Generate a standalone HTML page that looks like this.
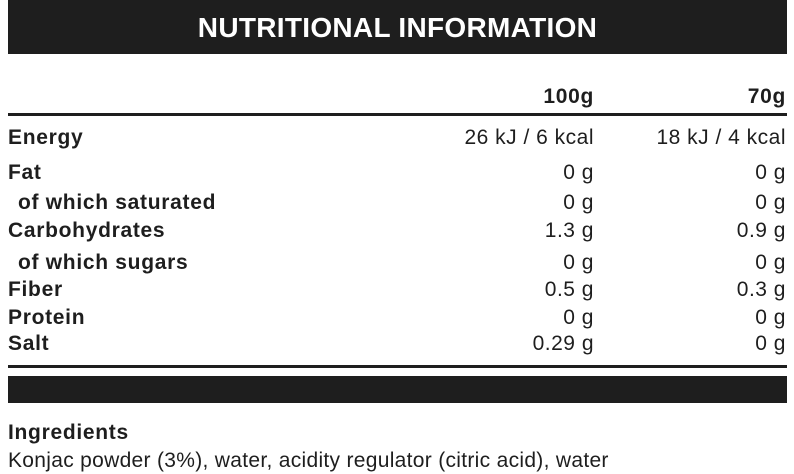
<!DOCTYPE html>
<html><head><style>
body{margin:0;width:794px;height:474px;background:#fff;position:relative;overflow:hidden;font-family:"Liberation Sans",Arial,sans-serif;color:#1e1e1e}
.a{position:absolute;line-height:20px;font-size:21px;white-space:nowrap;letter-spacing:0.5px}
.b{font-weight:bold;letter-spacing:0.7px}
.r{text-align:right}
</style></head><body>
<div style="position:absolute;left:8px;top:0;width:779px;height:54px;background:#1e1e1e"></div>
<div class="a b" style="left:8px;width:779px;top:13px;font-size:28px;line-height:30px;text-align:center;color:#fff;letter-spacing:0.3px">NUTRITIONAL INFORMATION</div>
<div style="position:absolute;left:8px;top:113px;width:779px;height:3px;background:#1e1e1e"></div>
<div class="a b r" style="right:200px;top:87px">100g</div>
<div class="a b r" style="right:8px;top:87px">70g</div>

<div class="a b" style="left:8px;top:128px">Energy</div>
<div class="a r" style="right:200px;top:128px">26 kJ / 6 kcal</div>
<div class="a r" style="right:8px;top:128px">18 kJ / 4 kcal</div>

<div class="a b" style="left:8px;top:163px">Fat</div>
<div class="a r" style="right:200px;top:163px">0 g</div>
<div class="a r" style="right:8px;top:163px">0 g</div>

<div class="a b" style="left:18px;top:193px">of which saturated</div>
<div class="a r" style="right:200px;top:193px">0 g</div>
<div class="a r" style="right:8px;top:193px">0 g</div>

<div class="a b" style="left:8px;top:221px">Carbohydrates</div>
<div class="a r" style="right:200px;top:221px">1.3 g</div>
<div class="a r" style="right:8px;top:221px">0.9 g</div>

<div class="a b" style="left:18px;top:253px">of which sugars</div>
<div class="a r" style="right:200px;top:253px">0 g</div>
<div class="a r" style="right:8px;top:253px">0 g</div>

<div class="a b" style="left:8px;top:280px">Fiber</div>
<div class="a r" style="right:200px;top:280px">0.5 g</div>
<div class="a r" style="right:8px;top:280px">0.3 g</div>

<div class="a b" style="left:8px;top:308px">Protein</div>
<div class="a r" style="right:200px;top:308px">0 g</div>
<div class="a r" style="right:8px;top:308px">0 g</div>

<div class="a b" style="left:8px;top:334px">Salt</div>
<div class="a r" style="right:200px;top:334px">0.29 g</div>
<div class="a r" style="right:8px;top:334px">0 g</div>

<div style="position:absolute;left:8px;top:365px;width:779px;height:3px;background:#1e1e1e"></div>
<div style="position:absolute;left:8px;top:376px;width:779px;height:27px;background:#1e1e1e"></div>

<div class="a b" style="left:8px;top:423px">Ingredients</div>
<div class="a" style="left:8px;top:451px;letter-spacing:0.3px">Konjac powder (3%), water, acidity regulator (citric acid), water</div>
</body></html>
